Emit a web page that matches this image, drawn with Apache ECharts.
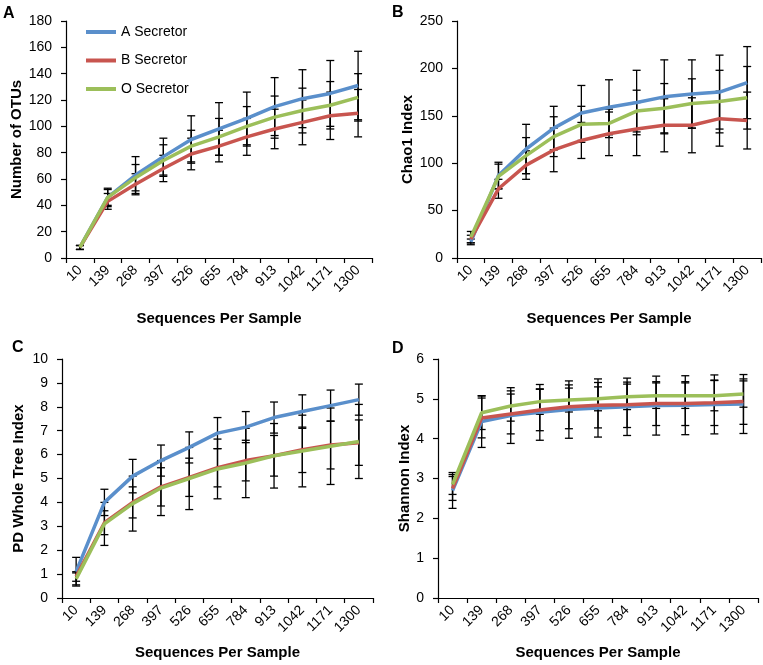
<!DOCTYPE html>
<html>
<head>
<meta charset="utf-8">
<script src="https://cdn.jsdelivr.net/npm/echarts@6/dist/echarts.min.js"></script>
<style>
html,body{margin:0;padding:0;background:#fff;}
#chart{width:763px;height:665px;}
</style>
</head>
<body>
<div id="chart"></div>
<script>
const categories = ['10','139','268','397','526','655','784','913','1042','1171','1300'];
const seriesNames = ['A Secretor','B Secretor','O Secretor'];
const colors = ['#5A8FCB','#C8554F','#9CBF5A'];

// Panel A: Number of OTUs
const otuA = [8, 46, 63, 77, 90, 98, 106, 115, 121, 125, 131];
const otuB = [8, 43, 56, 68, 79, 85, 92, 98, 103, 108, 110];
const otuO = [8, 46, 61, 74, 85, 92, 100, 107, 112, 116, 122];
const otuErrA = [1.5, 6, 14, 14, 18, 20, 20, 22, 22, 25, 26];
const otuErrB = [1.5, 6, 8, 10, 12, 12, 14, 15, 17, 18, 18];
const otuErrO = [1.5, 7, 10, 12, 12, 14, 15, 16, 17, 18, 18];

// Panel B: Chao1 Index
const chaoA = [17, 87, 115, 137, 153, 159, 164, 170, 173, 175, 185];
const chaoB = [20, 73, 98, 114, 124, 131, 136, 140, 140, 147, 145];
const chaoO = [22, 86, 108, 128, 141, 142, 155, 158, 163, 165, 169];
const chaoErrA = [3, 14, 26, 23, 29, 29, 34, 39, 36, 39, 38];
const chaoErrB = [4, 10, 15, 23, 19, 23, 28, 28, 29, 29, 30];
const chaoErrO = [6, 13, 19, 21, 19, 15, 22, 26, 26, 33, 33];

// Panel C: PD Whole Tree Index
const pdA = [1.1, 4.0, 5.1, 5.75, 6.3, 6.9, 7.15, 7.55, 7.8, 8.05, 8.3];
const pdB = [0.9, 3.15, 4.0, 4.65, 5.05, 5.45, 5.75, 5.95, 6.2, 6.4, 6.5];
const pdO = [0.8, 3.1, 3.95, 4.6, 5.0, 5.4, 5.65, 5.95, 6.15, 6.35, 6.55];
const pdErrA = [0.6, 0.55, 0.7, 0.65, 0.65, 0.65, 0.65, 0.65, 0.7, 0.65, 0.65];
const pdErrB = [0.2, 0.5, 0.65, 0.8, 0.8, 0.8, 0.85, 0.85, 0.95, 1.0, 0.95];
const pdErrO = [0.25, 0.9, 1.15, 1.15, 1.3, 1.25, 1.45, 1.35, 1.5, 1.6, 1.55];

// Panel D: Shannon Index
const shA = [2.7, 4.43, 4.58, 4.66, 4.73, 4.77, 4.8, 4.83, 4.84, 4.86, 4.87];
const shB = [2.75, 4.52, 4.62, 4.72, 4.8, 4.84, 4.85, 4.88, 4.88, 4.9, 4.93];
const shO = [2.85, 4.65, 4.82, 4.93, 4.97, 5.0, 5.05, 5.08, 5.08, 5.08, 5.12];
const shErrA = [0.45, 0.65, 0.7, 0.7, 0.72, 0.73, 0.72, 0.74, 0.74, 0.74, 0.74];
const shErrB = [0.3, 0.5, 0.5, 0.52, 0.55, 0.57, 0.57, 0.55, 0.55, 0.57, 0.57];
const shErrO = [0.25, 0.42, 0.38, 0.32, 0.3, 0.3, 0.32, 0.32, 0.32, 0.38, 0.33];

const panels = [
  {letter:'A', yName:'Number of OTUs', max:180, interval:20, vals:[otuA,otuB,otuO], errs:[otuErrA,otuErrB,otuErrO],
   grid:{left:66, top:21, width:306, height:237}, nameGapY:42, nameGapX:53, letterPos:{left:3, top:6}},
  {letter:'B', yName:'Chao1 Index', max:250, interval:50, vals:[chaoA,chaoB,chaoO], errs:[chaoErrA,chaoErrB,chaoErrO],
   grid:{left:457, top:21, width:304, height:237}, nameGapY:42, nameGapX:53, letterPos:{left:392, top:5}},
  {letter:'C', yName:'PD Whole Tree Index', max:10, interval:1, vals:[pdA,pdB,pdO], errs:[pdErrA,pdErrB,pdErrO],
   grid:{left:62, top:359, width:311, height:239}, nameGapY:36, nameGapX:47, letterPos:{left:12, top:340}},
  {letter:'D', yName:'Shannon Index', max:6, interval:1, vals:[shA,shB,shO], errs:[shErrA,shErrB,shErrO],
   grid:{left:438, top:359, width:320, height:239}, nameGapY:25, nameGapX:47, letterPos:{left:392, top:341}}
];

const FONT = '"Liberation Sans", Arial, Helvetica, sans-serif';
const axisColor = '#000';

function renderErr(params, api) {
  const x = api.value(0), lo = api.value(1), hi = api.value(2);
  const pLo = api.coord([x, lo]);
  const pHi = api.coord([x, hi]);
  const w = 4;
  const st = {stroke:'#000', lineWidth:1.3};
  return {type:'group', children:[
    {type:'line', shape:{x1:pLo[0], y1:pLo[1], x2:pHi[0], y2:pHi[1]}, style:st},
    {type:'line', shape:{x1:pLo[0]-w, y1:pLo[1], x2:pLo[0]+w, y2:pLo[1]}, style:st},
    {type:'line', shape:{x1:pHi[0]-w, y1:pHi[1], x2:pHi[0]+w, y2:pHi[1]}, style:st}
  ]};
}

const grids = [], xAxes = [], yAxes = [], series = [], titles = [];
panels.forEach((p, gi) => {
  grids.push(Object.assign({containLabel:false}, p.grid));
  xAxes.push({
    type:'category', gridIndex:gi, data:categories, boundaryGap:true,
    name:'Sequences Per Sample', nameLocation:'middle', nameGap:p.nameGapX,
    nameTextStyle:{fontFamily:FONT, fontSize:15, fontWeight:'bold', color:'#000'},
    axisLine:{lineStyle:{color:axisColor, width:1.2}},
    axisTick:{show:true, inside:false, length:5, interval:0, lineStyle:{color:axisColor, width:1.2}},
    axisLabel:{interval:0, rotate:45, margin:10, fontFamily:FONT, fontSize:14, color:'#000'},
    splitLine:{show:false}
  });
  yAxes.push({
    type:'value', gridIndex:gi, min:0, max:p.max, interval:p.interval,
    name:p.yName, nameLocation:'middle', nameGap:p.nameGapY,
    nameTextStyle:{fontFamily:FONT, fontSize:15, fontWeight:'bold', color:'#000'},
    axisLine:{show:true, lineStyle:{color:axisColor, width:1.2}},
    axisTick:{show:true, inside:false, length:5, lineStyle:{color:axisColor, width:1.2}},
    axisLabel:{margin:14, fontFamily:FONT, fontSize:14, color:'#000'},
    splitLine:{show:false}
  });
  titles.push({text:p.letter, left:p.letterPos.left, top:p.letterPos.top, padding:0,
    textStyle:{fontFamily:FONT, fontSize:16, fontWeight:'bold', color:'#000'}});
  // error bars
  for (let s = 0; s < 3; s++) {
    const v = p.vals[s], e = p.errs[s];
    series.push({
      type:'custom', name:'err'+gi+'_'+s, xAxisIndex:gi, yAxisIndex:gi,
      renderItem:renderErr, encode:{x:0, y:[1,2]}, z:1, silent:true,
      data:v.map((val,i)=>[i, val - e[i], val + e[i]])
    });
  }
  for (let s = 0; s < 3; s++) {
    series.push({
      type:'line', name:seriesNames[s], xAxisIndex:gi, yAxisIndex:gi,
      data:p.vals[s], symbol:'none', smooth:false, z:2+s,
      lineStyle:{color:colors[s], width:3.5}, itemStyle:{color:colors[s]}
    });
  }
});

const chart = echarts.init(document.getElementById('chart'), null, {renderer:'canvas'});
chart.setOption({
  animation:false,
  backgroundColor:'#fff',
  title:titles,
  legend:{
    data:seriesNames, orient:'vertical', left:86, top:24, padding:0,
    icon:'rect', itemWidth:30, itemHeight:4, itemGap:12.5,
    textStyle:{fontFamily:FONT, fontSize:14, color:'#000', lineHeight:16}
  },
  grid:grids, xAxis:xAxes, yAxis:yAxes, series:series
});
</script>
</body>
</html>
